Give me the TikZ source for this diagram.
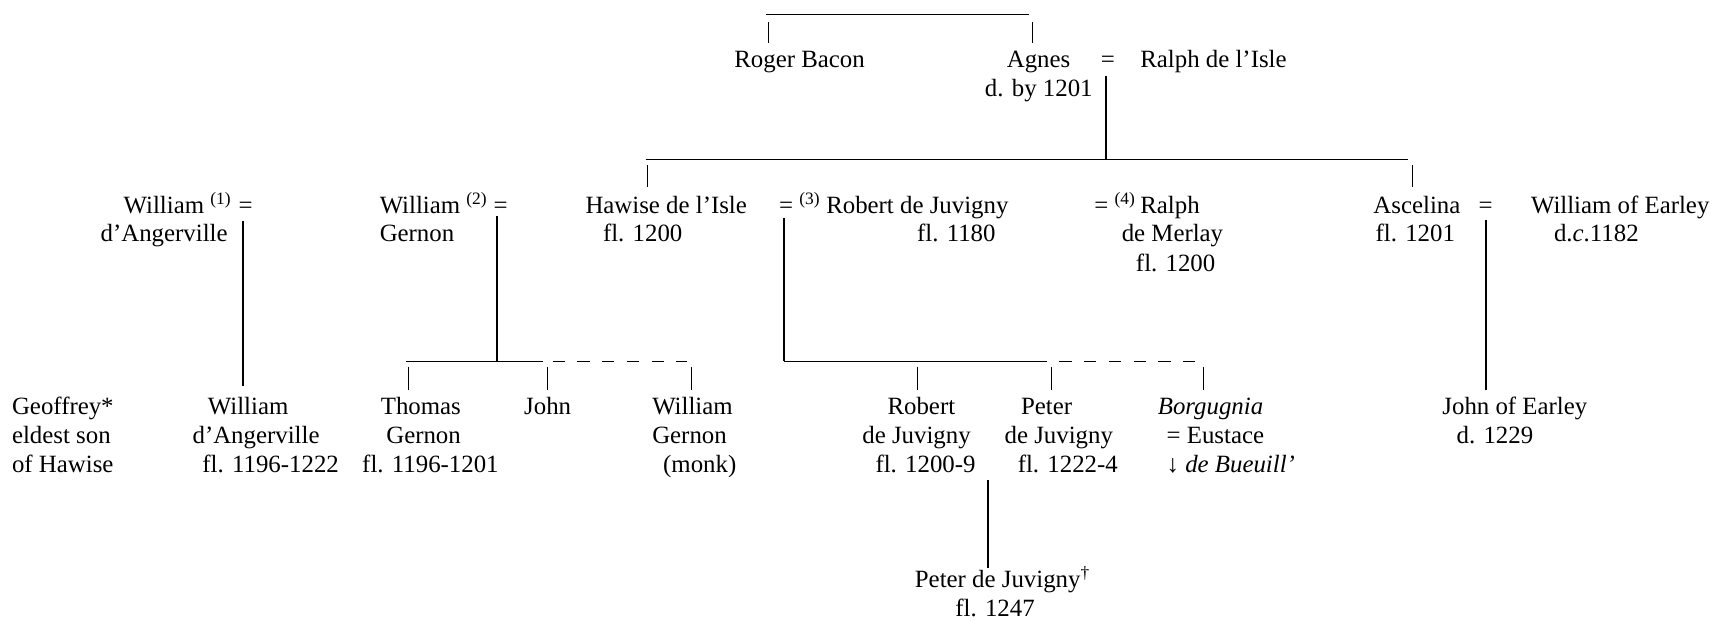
\documentclass[tikz,border=0pt]{standalone}
\usepackage{fontspec}
\setmainfont{Liberation Serif}
\begin{document}
\begin{tikzpicture}[x=0.5pt,y=-0.5pt,
  every node/.style={inner sep=0pt,outer sep=0pt,font=\fontsize{11.35pt}{13.25pt}\selectfont},
  lbl/.style={anchor=base west},
  tick/.style={line width=0.45pt},
  stem/.style={line width=0.9pt},
  bar/.style={line width=0.4pt},
  dbar/.style={line width=0.4pt,dash pattern=on 5.6pt off 5.7pt}]
\useasboundingbox (0,0) rectangle (1568,567);
% ---------- top row
\node[lbl] (rb) at (671,62) {Roger Bacon};
\node[lbl] (ag) at (920,62) {Agnes};
\node[lbl] (eq0) at (1006,62) {=};
\node[lbl] (rl) at (1042,62) {Ralph de l’Isle};
\node[lbl] (agd) at (900,88) {d. by 1201};
% ---------- row 2
\node[lbl] (w1) at (113,195) {William \textsuperscript{(1)}};
\node[lbl] (eq1) at (218,195) {=};
\node[lbl] (w1b) at (92,221) {d’Angerville};
\node[lbl] (w2) at (347,195) {William \textsuperscript{(2)}};
\node[lbl] (eq2) at (451,195) {=};
\node[lbl] (w2b) at (347,221) {Gernon};
\node[lbl] (hw) at (535,195) {Hawise de l’Isle};
\node[lbl] (hwd) at (551,221) {fl. 1200};
\node[lbl] (eq3) at (712,195) {= \textsuperscript{(3)}};
\node[lbl] (rj) at (755,195) {Robert de Juvigny};
\node[lbl] (rjd) at (838,221) {fl. 1180};
\node[lbl] (eq4) at (1000,195) {= \textsuperscript{(4)}};
\node[lbl] (rm) at (1042,195) {Ralph};
\node[lbl] (rmb) at (1025,221) {de Merlay};
\node[lbl] (rmd) at (1038,248) {fl. 1200};
\node[lbl] (as) at (1255,195) {Ascelina};
\node[lbl] (eq5) at (1351,195) {=};
\node[lbl] (we) at (1399,195) {William of Earley};
\node[lbl] (asd) at (1257,221) {fl. 1201};
\node[lbl] (wed) at (1420,221) {d.\textit{c}.1182};
% ---------- row 3
\node[lbl] (g1) at (11,379) {Geoffrey*};
\node[lbl] (g2) at (11,405) {eldest son};
\node[lbl] (g3) at (11,432) {of Hawise};
\node[lbl] (wa1) at (190,379) {William};
\node[lbl] (wa2) at (176,405) {d’Angerville};
\node[lbl] (wa3) at (185,432) {fl. 1196-1222};
\node[lbl] (tg1) at (348,379) {Thomas};
\node[lbl] (tg2) at (353,405) {Gernon};
\node[lbl] (tg3) at (331,432) {fl. 1196-1201};
\node[lbl] (jo) at (479,379) {John};
\node[lbl] (wg1) at (596,379) {William};
\node[lbl] (wg2) at (596,405) {Gernon};
\node[lbl] (wg3) at (606,432) {(monk)};
\node[lbl] (rj1) at (811,379) {Robert};
\node[lbl] (rj2) at (788,405) {de Juvigny};
\node[lbl] (rj3) at (800,432) {fl. 1200-9};
\node[lbl] (pj1) at (933,379) {Peter};
\node[lbl] (pj2) at (918,405) {de Juvigny};
\node[lbl] (pj3) at (930,432) {fl. 1222-4};
\node[lbl] (bo1) at (1058,379) {\textit{Borgugnia}};
\node[lbl] (bo2) at (1066,405) {= Eustace};
\node[lbl] (bo3) at (1066,432) {↓ \textit{de Bueuill’}};
\node[lbl] (je1) at (1318,379) {John of Earley};
\node[lbl] (je2) at (1331,405) {d. 1229};
% ---------- bottom
\node[lbl] (pp1) at (836,537) {Peter de Juvigny\textsuperscript{†}};
\node[lbl] (pp2) at (873,563) {fl. 1247};
% ---------- line junctions
\coordinate (t0a) at (700,13); \coordinate (t0b) at (940,13);
\coordinate (k1a) at (702,20); \coordinate (k1b) at (702,39);
\coordinate (k2a) at (943,20); \coordinate (k2b) at (943,39);
\coordinate (s0a) at (1011,69); \coordinate (s0b) at (1011,146);
\coordinate (h1a) at (590,146); \coordinate (h1b) at (1287,146);
\coordinate (k3a) at (592,151); \coordinate (k3b) at (592,171);
\coordinate (k4a) at (1291,151); \coordinate (k4b) at (1291,171);
\coordinate (s1a) at (222,202); \coordinate (s1b) at (222,353);
\coordinate (s2a) at (454,197); \coordinate (s2b) at (454,330);
\coordinate (h2a) at (371,330); \coordinate (h2m) at (496,330);
\coordinate (h2n) at (505,330); \coordinate (h2b) at (628,330);
\coordinate (k5a) at (373,335); \coordinate (k5b) at (373,356);
\coordinate (k6a) at (500,335); \coordinate (k6b) at (500,356);
\coordinate (k7a) at (632,335); \coordinate (k7b) at (632,356);
\coordinate (s3a) at (716,199); \coordinate (s3b) at (716,330);
\coordinate (h3m) at (957,330); \coordinate (h3n) at (968,330); \coordinate (h3b) at (1095,330);
\coordinate (k8a) at (838,335); \coordinate (k8b) at (838,356);
\coordinate (k9a) at (961,335); \coordinate (k9b) at (961,356);
\coordinate (k10a) at (1100,335); \coordinate (k10b) at (1100,356);
\coordinate (s4a) at (903,439); \coordinate (s4b) at (903,519);
\coordinate (s5a) at (1358,201); \coordinate (s5b) at (1358,356);
% ---------- lines
\draw[bar] (t0a) -- (t0b);
\draw[tick] (k1a) -- (k1b);
\draw[tick] (k2a) -- (k2b);
\draw[stem] (s0a) -- (s0b);
\draw[bar] (h1a) -- (h1b);
\draw[tick] (k3a) -- (k3b);
\draw[tick] (k4a) -- (k4b);
\draw[stem] (s1a) -- (s1b);
\draw[stem] (s2a) -- (s2b);
\draw[bar] (h2a) -- (h2m);
\draw[dbar] (h2n) -- (h2b);
\draw[tick] (k5a) -- (k5b);
\draw[tick] (k6a) -- (k6b);
\draw[tick] (k7a) -- (k7b);
\draw[stem] (s3a) -- (s3b);
\draw[bar] (s3b) -- (h3m);
\draw[dbar] (h3n) -- (h3b);
\draw[tick] (k8a) -- (k8b);
\draw[tick] (k9a) -- (k9b);
\draw[tick] (k10a) -- (k10b);
\draw[stem] (s4a) -- (s4b);
\draw[stem] (s5a) -- (s5b);
\end{tikzpicture}
\end{document}
